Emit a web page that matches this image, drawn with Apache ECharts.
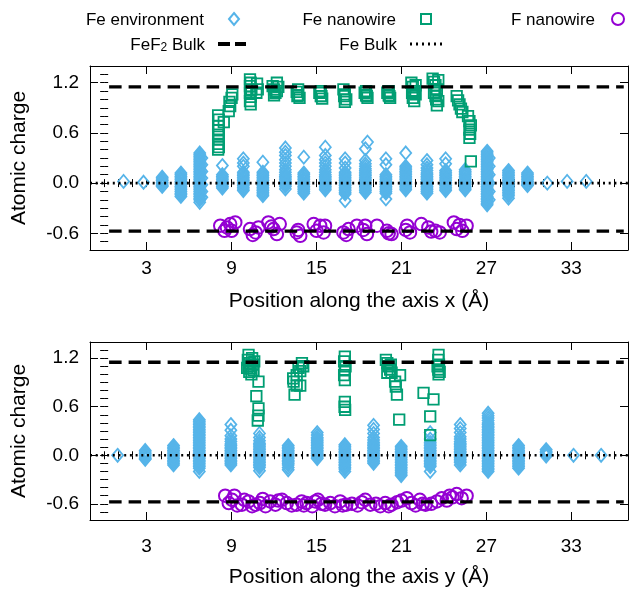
<!DOCTYPE html>
<html><head><meta charset="utf-8">
<script src="https://cdn.jsdelivr.net/npm/echarts@6/dist/echarts.min.js"></script>
<style>html,body{margin:0;padding:0;background:#fff;}#c{width:629px;height:589px;}</style>
</head><body><div id="c"></div>
<script>
// ---------------- DATA ----------------
const xTickLabels = [3, 9, 15, 21, 27, 33];
const yTickLabels = [-0.6, 0.0, 0.6, 1.2];
const xRange = [-1, 37];
const yRange = [-0.8, 1.4];
const feF2BulkCharges = [1.15, -0.575];
const feBulkCharge = [0.0];
const feF2DashRange = [0.35, 36.7];

// Top panel: position along x
const feEnvTopX = [1.37, 2.78, 4.1, 5.42, 6.75, 6.9, 8.35, 9.83, 11.21, 12.8, 14.1, 15.62, 17.02, 18.45, 18.6, 19.9, 21.3, 22.8, 24.12, 25.5, 27.05, 27.2, 28.56, 29.9, 31.3, 32.7, 34.05];
const feEnvTopY = [
  [0.02],
  [0.01],
  [0.07, 0.05, 0.03, 0.01, -0.01, -0.03, -0.04],
  [0.12, 0.1, 0.08, 0.06, 0.04, 0.02, 0.0, -0.02, -0.04, -0.06, -0.08, -0.1, -0.12, -0.14, -0.16],
  [0.36, 0.34, 0.32, 0.3, 0.28, 0.26, 0.24, 0.22, 0.2, 0.18, 0.16, 0.14, 0.12, 0.1, 0.08, 0.06, 0.04, 0.02, 0.0, -0.02, -0.04, -0.06, -0.08, -0.1, -0.12, -0.14, -0.16, -0.18, -0.2, -0.23],
  [0.3, 0.22, 0.14, 0.06, -0.02, -0.1, -0.17],
  [0.21, 0.1, 0.08, 0.06, 0.04, 0.02, 0.0, -0.02, -0.04, -0.06],
  [0.29, 0.24, 0.2, 0.13, 0.11, 0.09, 0.07, 0.05, 0.03, 0.01, -0.01, -0.03, -0.05, -0.07, -0.09],
  [0.25, 0.13, 0.11, 0.09, 0.07, 0.05, 0.03, 0.01, -0.01, -0.03, -0.05, -0.07, -0.09, -0.11, -0.13, -0.15],
  [0.42, 0.37, 0.33, 0.28, 0.24, 0.2, 0.16, 0.13, 0.1, 0.08, 0.06, 0.04, 0.02, 0.0, -0.02, -0.04, -0.07],
  [0.31, 0.12, 0.1, 0.08, 0.06, 0.04, 0.02, 0.0, -0.02, -0.04, -0.06, -0.08, -0.1, -0.12],
  [0.43, 0.33, 0.28, 0.24, 0.2, 0.16, 0.13, 0.1, 0.08, 0.06, 0.04, 0.02, 0.0, -0.02, -0.04, -0.06, -0.08],
  [0.29, 0.24, 0.18, 0.13, 0.11, 0.09, 0.07, 0.05, 0.03, 0.01, -0.01, -0.03, -0.05, -0.07, -0.09, -0.11, -0.13, -0.21],
  [0.41, 0.27, 0.23, 0.2, 0.17, 0.15, 0.13, 0.11, 0.09, 0.07, 0.05, 0.03, 0.01, -0.01, -0.03, -0.05, -0.07, -0.09, -0.11],
  [0.49],
  [0.29, 0.22, 0.1, 0.08, 0.06, 0.04, 0.02, 0.0, -0.02, -0.04, -0.06, -0.08, -0.1, -0.12, -0.19],
  [0.36, 0.2, 0.18, 0.16, 0.14, 0.12, 0.1, 0.08, 0.06, 0.04, 0.02, 0.0, -0.02, -0.04, -0.06, -0.08],
  [0.27, 0.22, 0.18, 0.15, 0.12, 0.1, 0.08, 0.06, 0.04, 0.02, 0.0, -0.02, -0.04, -0.06, -0.08, -0.1, -0.12],
  [0.29, 0.23, 0.15, 0.13, 0.11, 0.09, 0.07, 0.05, 0.03, 0.01, -0.01, -0.03, -0.05, -0.07, -0.09],
  [0.16, 0.14, 0.12, 0.1, 0.08, 0.06, 0.04, 0.02, 0.0, -0.02, -0.04, -0.06, -0.08],
  [0.38, 0.36, 0.34, 0.32, 0.3, 0.28, 0.26, 0.24, 0.22, 0.2, 0.18, 0.16, 0.14, 0.12, 0.1, 0.08, 0.06, 0.04, 0.02, 0.0, -0.02, -0.04, -0.06, -0.08, -0.1, -0.12, -0.14, -0.16, -0.18, -0.2, -0.22, -0.24, -0.26],
  [0.3, 0.2, 0.1, 0.0, -0.1, -0.2],
  [0.15, 0.13, 0.11, 0.09, 0.07, 0.05, 0.03, 0.01, -0.01, -0.03, -0.05, -0.07, -0.09, -0.11, -0.13, -0.15, -0.18],
  [0.12, 0.1, 0.08, 0.06, 0.04, 0.02, 0.0, -0.02, -0.03],
  [0.0],
  [0.02],
  [0.02]
];
const feWireTop = [
  [8.05,0.81],[8.1,0.76],[8.45,0.73],[8.05,0.68],[8.1,0.63],[8.05,0.58],[8.1,0.52],[8.05,0.47],[8.1,0.43],[8.05,0.4],
  [8.8,0.86],[8.9,0.92],[8.85,0.97],[9.0,1.02],[9.05,1.06],
  [10.3,1.24],[10.35,1.2],[10.3,1.16],[10.4,1.12],[10.3,1.08],[10.35,1.03],[10.3,0.98],[10.35,0.94],[10.8,1.19],[10.85,1.12],[10.75,1.08],
  [11.9,1.16],[12.0,1.12],[12.1,1.08],[12.2,1.2],[12.3,1.15],[12.0,1.05],[12.2,1.1],
  [13.6,1.09],[13.7,1.05],[13.8,1.02],[13.7,1.12],[13.65,1.04],
  [15.2,1.08],[15.3,1.04],[15.4,1.01],[15.3,1.1],[15.35,1.04],
  [16.9,1.12],[17.0,1.06],[17.1,1.0],[17.0,0.97],[16.95,1.04],
  [18.4,1.08],[18.5,1.05],[18.6,1.02],[18.5,1.1],[18.55,1.04],
  [20.0,1.08],[20.1,1.05],[20.2,1.02],[20.1,1.1],[20.15,1.04],
  [21.7,1.2],[21.8,1.15],[21.9,1.1],[22.0,1.06],[21.8,1.02],[21.9,0.98],[22.0,1.17],[21.75,1.08],
  [23.2,1.25],[23.3,1.21],[23.4,1.17],[23.5,1.12],[23.3,1.08],[23.4,1.04],[23.6,0.98],[23.5,0.93],[23.6,1.23],[23.45,1.0],
  [24.9,1.04],[25.0,0.99],[25.1,0.94],[25.2,0.89],[25.3,0.85],
  [25.7,0.8],[25.8,0.74],[25.9,0.69],[25.8,0.64],[25.85,0.59],[25.8,0.54],[25.9,0.26]
];
const fWireTop = [
  [8.2,-0.51],[8.5,-0.57],[8.67,-0.53],[9.0,-0.57],[9.26,-0.47],[8.9,-0.49],
  [10.3,-0.55],[10.7,-0.59],[10.9,-0.53],[10.5,-0.62],
  [11.6,-0.47],[11.96,-0.55],[12.4,-0.49],[12.2,-0.61],[11.8,-0.52],
  [13.6,-0.59],[13.85,-0.63],[13.7,-0.56],
  [14.8,-0.49],[15.0,-0.57],[15.26,-0.51],[15.5,-0.59],[15.6,-0.51],
  [16.9,-0.59],[17.26,-0.55],[17.1,-0.62],
  [17.85,-0.51],[18.44,-0.51],[18.56,-0.61],[18.3,-0.56],[19.27,-0.51],
  [19.97,-0.57],[20.3,-0.61],[20.1,-0.6],
  [21.4,-0.51],[21.6,-0.59],[21.3,-0.56],
  [22.4,-0.49],[22.9,-0.53],[23.4,-0.57],[23.7,-0.59],[23.1,-0.58],
  [24.7,-0.47],[24.9,-0.55],[25.3,-0.57],[25.6,-0.51],[25.1,-0.5]
];

// Bottom panel: position along y
const feEnvBotX = [0.95, 2.9, 4.9, 6.72, 8.95, 10.97, 13.0, 15.05, 17.0, 19.03, 20.98, 23.03, 25.15, 27.12, 29.27, 31.22, 33.15, 35.1];
const feEnvBotY = [
  [0.0],
  [0.06, 0.04, 0.02, 0.0, -0.02, -0.04, -0.05],
  [0.12, 0.1, 0.08, 0.06, 0.04, 0.02, 0.0, -0.02, -0.04, -0.06, -0.08, -0.1, -0.12],
  [0.44, 0.42, 0.4, 0.38, 0.36, 0.34, 0.32, 0.3, 0.28, 0.26, 0.24, 0.22, 0.2, 0.18, 0.16, 0.14, 0.12, 0.1, 0.08, 0.06, 0.04, 0.02, 0.0, -0.02, -0.04, -0.06, -0.08, -0.1, -0.12, -0.14, -0.16, -0.2],
  [0.38, 0.31, 0.24, 0.2, 0.17, 0.14, 0.12, 0.1, 0.08, 0.06, 0.04, 0.02, 0.0, -0.02, -0.04, -0.06, -0.08, -0.1, -0.12],
  [0.27, 0.22, 0.18, 0.15, 0.13, 0.11, 0.09, 0.07, 0.05, 0.03, 0.01, -0.01, -0.03, -0.05, -0.07, -0.09, -0.11, -0.13, -0.15, -0.19],
  [0.12, 0.1, 0.08, 0.06, 0.04, 0.02, 0.0, -0.02, -0.04, -0.06, -0.08, -0.1, -0.12, -0.15, -0.18],
  [0.28, 0.25, 0.22, 0.2, 0.18, 0.16, 0.14, 0.12, 0.1, 0.08, 0.06, 0.04, 0.02, 0.0, -0.02, -0.04],
  [0.13, 0.11, 0.09, 0.07, 0.05, 0.03, 0.01, -0.01, -0.03, -0.05, -0.07, -0.09, -0.11, -0.13, -0.15, -0.17, -0.2],
  [0.37, 0.32, 0.27, 0.22, 0.19, 0.16, 0.14, 0.12, 0.1, 0.08, 0.06, 0.04, 0.02, 0.0, -0.02, -0.04, -0.06, -0.08, -0.1],
  [0.11, 0.09, 0.07, 0.05, 0.03, 0.01, -0.01, -0.03, -0.05, -0.07, -0.09, -0.11, -0.13, -0.15, -0.17, -0.19, -0.21, -0.23, -0.25],
  [0.28, 0.2, 0.16, 0.14, 0.12, 0.1, 0.08, 0.06, 0.04, 0.02, 0.0, -0.02, -0.04, -0.06, -0.08, -0.1, -0.12, -0.14, -0.2],
  [0.38, 0.33, 0.28, 0.23, 0.2, 0.17, 0.15, 0.13, 0.11, 0.09, 0.07, 0.05, 0.03, 0.01, -0.01, -0.03, -0.05, -0.07, -0.09, -0.12],
  [0.52, 0.49, 0.46, 0.43, 0.4, 0.38, 0.36, 0.34, 0.32, 0.3, 0.28, 0.26, 0.24, 0.22, 0.2, 0.18, 0.16, 0.14, 0.12, 0.1, 0.08, 0.06, 0.04, 0.02, 0.0, -0.02, -0.04, -0.06, -0.08, -0.1, -0.12, -0.14, -0.16, -0.18, -0.2],
  [0.12, 0.1, 0.08, 0.06, 0.04, 0.02, 0.0, -0.02, -0.04, -0.06, -0.08, -0.1, -0.12, -0.14, -0.16],
  [0.07, 0.05, 0.03, 0.01, -0.01],
  [0.0],
  [0.0]
];
const feWireBot = [
  [10.2,1.24],[10.15,1.18],[10.3,1.14],[10.2,1.1],[10.35,1.07],[10.25,1.03],[10.4,1.0],[10.5,1.12],[10.6,1.16],[10.55,1.05],[10.1,1.08],[10.45,1.2],
  [10.9,0.91],[10.75,0.73],[10.9,0.58],[10.9,0.49],[10.85,0.43],
  [13.35,0.95],[13.38,0.91],[13.6,0.86],[13.45,0.75],[13.85,0.86],[13.6,0.99],[13.73,1.08],[13.97,1.14],[14.06,1.1],[13.85,1.04],
  [17.0,1.22],[16.95,1.16],[17.05,1.1],[17.0,1.05],[16.95,0.99],[17.0,0.93],[17.0,0.66],[16.98,0.6],[17.02,0.56],
  [19.9,1.18],[20.0,1.14],[20.1,1.1],[20.2,1.06],[20.3,1.02],[20.0,1.02],[20.25,1.12],[20.9,0.99],[20.55,0.91],[20.6,0.85],[20.68,0.75],[20.84,0.44],
  [22.56,0.77],[23.26,0.69],[23.03,0.48],[23.03,0.25],
  [23.62,1.24],[23.6,1.18],[23.65,1.12],[23.6,1.06],[23.62,1.0],[23.55,1.1],[23.7,1.03]
];
const fWireBot = [
  [8.55,-0.5],[8.8,-0.59],[9.03,-0.55],[9.2,-0.5],[9.4,-0.62],[9.73,-0.61],[9.9,-0.55],[10.2,-0.57],[10.45,-0.63],[10.7,-0.61],[11.0,-0.59],[11.2,-0.54],[11.4,-0.63],[11.73,-0.57],
  [12.1,-0.61],[12.3,-0.56],[12.56,-0.55],[12.9,-0.59],[13.25,-0.62],[13.6,-0.61],[13.95,-0.57],[14.1,-0.62],[14.3,-0.59],[14.7,-0.63],[14.9,-0.57],[15.1,-0.55],[15.35,-0.6],[15.6,-0.61],
  [15.97,-0.59],[16.3,-0.63],[16.67,-0.57],[16.85,-0.62],[17.1,-0.61],[17.5,-0.6],[17.9,-0.62],[18.2,-0.58],[18.44,-0.55],[18.8,-0.61],[19.2,-0.6],[19.5,-0.63],
  [19.85,-0.59],[20.1,-0.63],[20.3,-0.61],[20.7,-0.58],[21.0,-0.56],[21.38,-0.53],[21.7,-0.59],[22.0,-0.62],[22.3,-0.55],[22.5,-0.6],[22.7,-0.61],[23.1,-0.6],
  [23.5,-0.57],[23.85,-0.53],[24.2,-0.56],[24.4,-0.5],[24.6,-0.52],[24.9,-0.48],[25.25,-0.53],[25.6,-0.5]
];

// ---------------- STYLE / BUILD ----------------
const FONT = 'Liberation Sans, Arial, Helvetica, sans-serif';
const C_ENV = '#56B4E9', C_WIRE = '#009E73', C_F = '#9400D3';

function columns(xs, ys) {
  const out = [];
  xs.forEach((x, i) => ys[i].forEach(y => out.push([x, y])));
  return out;
}

function axesFor(g, xName, labelMargin, titleGap) {
  const xs = [
    { type:'value', gridIndex:g, min:xRange[0], max:xRange[1], position:'bottom',
      axisLine:{show:true, onZero:false, lineStyle:{color:'#000', width:1}},
      axisTick:{show:true, inside:true, length:8, customValues:xTickLabels, lineStyle:{color:'#000'}},
      axisLabel:{show:true, customValues:xTickLabels, margin:labelMargin, fontSize:19, color:'#000', fontFamily:FONT},
      splitLine:{show:false},
      name:xName, nameLocation:'middle', nameGap:titleGap,
      nameTextStyle:{fontSize:21, color:'#000', fontFamily:FONT} },
    { type:'value', gridIndex:g, min:xRange[0], max:xRange[1], interval:1, position:'bottom',
      axisLine:{show:false}, axisTick:{show:true, inside:true, length:4, lineStyle:{color:'#000'}},
      axisLabel:{show:false}, splitLine:{show:false} },
    { type:'value', gridIndex:g, min:xRange[0], max:xRange[1], position:'top',
      axisLine:{show:true, onZero:false, lineStyle:{color:'#000', width:1}},
      axisTick:{show:true, inside:true, length:8, customValues:xTickLabels, lineStyle:{color:'#000'}},
      axisLabel:{show:false}, splitLine:{show:false} },
    { type:'value', gridIndex:g, min:xRange[0], max:xRange[1], interval:1, position:'top',
      axisLine:{show:false}, axisTick:{show:true, inside:true, length:4, lineStyle:{color:'#000'}},
      axisLabel:{show:false}, splitLine:{show:false} }
  ];
  const ys = [
    { type:'value', gridIndex:g, min:yRange[0], max:yRange[1], position:'left',
      axisLine:{show:true, onZero:false, lineStyle:{color:'#000', width:1}},
      axisTick:{show:true, inside:true, length:8, customValues:yTickLabels, lineStyle:{color:'#000'}},
      axisLabel:{show:true, customValues:yTickLabels, margin:11, fontSize:19, color:'#000', fontFamily:FONT,
                 formatter:v => Number(v).toFixed(1)},
      splitLine:{show:false},
      name:'Atomic charge', nameLocation:'middle', nameGap:60, nameRotate:90,
      nameTextStyle:{fontSize:21, color:'#000', fontFamily:FONT} },
    { type:'value', gridIndex:g, min:yRange[0], max:yRange[1], interval:0.1, position:'left',
      axisLine:{show:false}, axisTick:{show:true, inside:true, length:4, lineStyle:{color:'#000'}},
      axisLabel:{show:false}, splitLine:{show:false} },
    { type:'value', gridIndex:g, min:yRange[0], max:yRange[1], position:'right',
      axisLine:{show:true, onZero:false, lineStyle:{color:'#000', width:1}},
      axisTick:{show:true, inside:true, length:8, customValues:yTickLabels, lineStyle:{color:'#000'}},
      axisLabel:{show:false}, splitLine:{show:false} },
    { type:'value', gridIndex:g, min:yRange[0], max:yRange[1], interval:0.1, position:'right',
      axisLine:{show:false}, axisTick:{show:true, inside:true, length:4, lineStyle:{color:'#000'}},
      axisLabel:{show:false}, splitLine:{show:false} }
  ];
  return {xs, ys};
}

function seriesFor(g, env, wire, fw) {
  const xi = g * 4, yi = g * 4;
  const list = [
    { type:'scatter', name:'Fe environment', xAxisIndex:xi, yAxisIndex:yi, data:env,
      symbol:'diamond', symbolSize:[11,13], z:2,
      itemStyle:{color:'rgba(0,0,0,0)', borderColor:C_ENV, borderWidth:1.8, opacity:1} },
    { type:'scatter', name:'Fe nanowire', xAxisIndex:xi, yAxisIndex:yi, data:wire,
      symbol:'rect', symbolSize:10.5, z:3,
      itemStyle:{color:'rgba(0,0,0,0)', borderColor:C_WIRE, borderWidth:1.8, opacity:1} },
    { type:'scatter', name:'F nanowire', xAxisIndex:xi, yAxisIndex:yi, data:fw,
      symbol:'circle', symbolSize:12.5, z:4,
      itemStyle:{color:'rgba(0,0,0,0)', borderColor:C_F, borderWidth:2, opacity:1} }
  ];
  feF2BulkCharges.forEach(v => list.push({
    type:'line', name:'FeF2 Bulk', xAxisIndex:xi, yAxisIndex:yi,
    data:[[feF2DashRange[0], v], [feF2DashRange[1], v]], symbol:'none', z:6,
    itemStyle:{color:'#000'},
    lineStyle:{color:'#000', width:3.3, type:[12.5, 7], cap:'butt'} }));
  feBulkCharge.forEach(v => list.push({
    type:'line', name:'Fe Bulk', xAxisIndex:xi, yAxisIndex:yi,
    data:[[xRange[0], v], [xRange[1], v]], symbol:'none', z:5,
    itemStyle:{color:'#000'},
    lineStyle:{color:'#000', width:2.6, type:[2, 3.7], cap:'butt'} }));
  return list;
}

const a0 = axesFor(0, 'Position along the axis x (Å)', 9, 41);
const a1 = axesFor(1, 'Position along the axis y (Å)', 17, 47);

function legend(name, icon, w, h, right, top, gap, fmt) {
  return {
    data:[{name, icon}], align:'right', orient:'horizontal', padding:0,
    itemWidth:w, itemHeight:h, right, top, selectedMode:false,
    formatter: fmt || (n => '{t|' + n + '}'),
    textStyle:{fontSize:17, color:'#000', fontFamily:FONT, rich:{
      t:{fontSize:17, fontFamily:FONT, color:'#000', lineHeight:20, verticalAlign:'bottom', padding:[0, gap, 0, 0]},
      n:{fontSize:17, fontFamily:FONT, color:'#000', lineHeight:20, verticalAlign:'bottom'},
      s:{fontSize:12, fontFamily:FONT, color:'#000', lineHeight:8, verticalAlign:'bottom'}
    }}
  };
}

const option = {
  animation:false,
  backgroundColor:'#fff',
  tooltip:{show:false},
  grid:[
    {left:90, top:66, width:538, height:184},
    {left:90, top:342, width:538, height:180}
  ],
  xAxis:[...a0.xs, ...a1.xs],
  yAxis:[...a0.ys, ...a1.ys],
  legend:[
    legend('Fe environment', 'path://M5,0L10,6L5,12L0,6Z', 10, 12, 389, 12, 20),
    legend('Fe nanowire', 'path://M0,0H10V10H0Z', 10, 10, 197, 12, 20),
    legend('F nanowire', 'path://M0,6a6,6 0 1,0 12,0a6,6 0 1,0 -12,0Z', 12, 12, 4, 12, 12),
    legend('FeF2 Bulk', 'path://M0,0h12v4h-12zM17,0h11v4h-11z', 28, 4, 383, 37, 8,
           () => '{n|FeF}{s|2}{t| Bulk}'),
    legend('Fe Bulk', 'path://M0,0h2v3h-2zM6,0h2v3h-2zM12,0h2v3h-2zM18,0h2v3h-2zM24,0h2v3h-2zM30,0h2v3h-2z', 32, 3, 187, 37, 8)
  ],
  series:[
    ...seriesFor(0, columns(feEnvTopX, feEnvTopY), feWireTop, fWireTop),
    ...seriesFor(1, columns(feEnvBotX, feEnvBotY), feWireBot, fWireBot)
  ]
};

const chart = echarts.init(document.getElementById('c'), null, {renderer:'canvas'});
chart.setOption(option);
</script>
</body></html>
